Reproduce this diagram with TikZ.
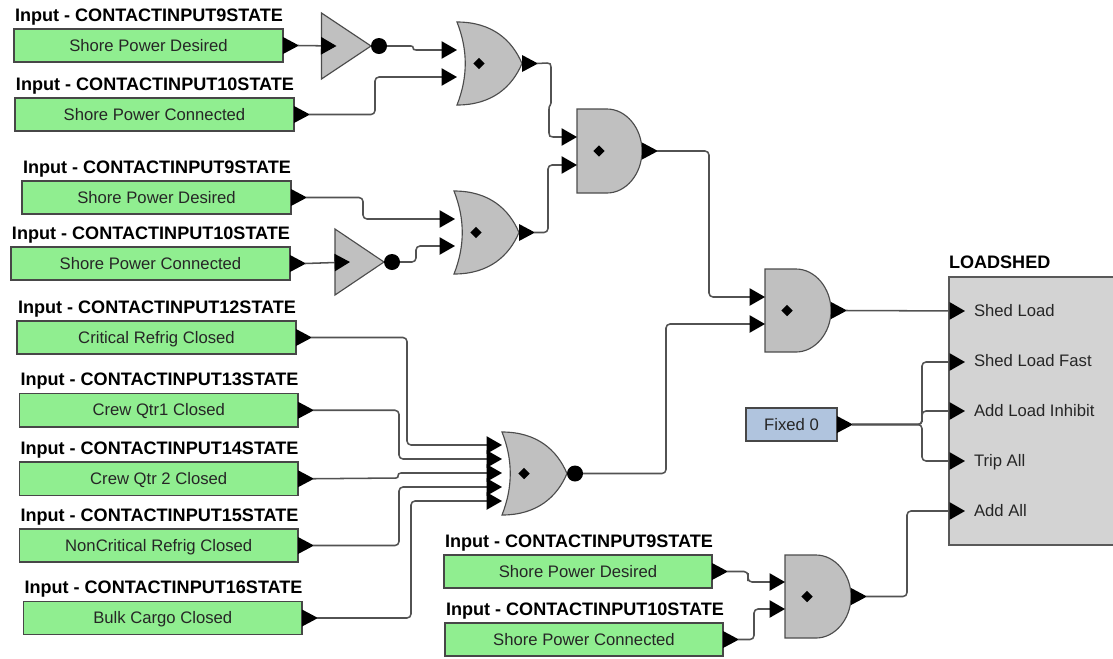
\documentclass[tikz,border=0pt]{standalone}
\usepackage{fontspec}
\setmainfont{Liberation Sans}
\usetikzlibrary{arrows.meta,calc,shapes.geometric}
\newcommand{\pxu}{0.75pt}
\tikzset{
  every node/.style={inner sep=0pt,outer sep=0pt},
  titletext/.style={anchor=base west,font=\bfseries\fontsize{13.55pt}{15pt}\selectfont,text=black},
  plain/.style={font=\fontsize{12.5pt}{15pt}\selectfont,text=black!85},
  boxbase/.style={draw=black!72,line width=0.95pt,plain,align=center,text height=10.4pt,text depth=2pt},
  inbox/.style={boxbase,fill={rgb,255:red,144;green,238;blue,144}},
  fixedbox/.style={boxbase,fill={rgb,255:red,176;green,196;blue,222}},
  blockbox/.style={draw=black!65,line width=0.95pt,fill={rgb,255:red,211;green,211;blue,211}},
  gatebody/.style={draw=black!70,line width=0.85pt,fill={rgb,255:red,192;green,192;blue,192}},
  wire/.style={draw=black!68,line width=1.15pt,rounded corners=3pt},
  wirein/.style={wire,-{Triangle[length=11.6pt,width=13pt,color=black,fill=black,sep=0pt]}},
  jogwire/.style={wirein,sharp corners},
  bubblenode/.style={circle,fill=black,minimum size=12pt},
  dia/.style={diamond,fill=black,minimum size=8.6pt},
  portlabel/.style={plain,anchor=west,text height=11pt,text depth=2pt},
}
% name, x1, y1, x2, y2, title, text
\newcommand{\inputbox}[7]{%
  \node[inbox,anchor=north west,minimum width={(#4-#2)*\pxu},minimum height={(#5-#3)*\pxu}] (#1) at (#2,#3) {#7};
  \node[titletext] (#1t) at (#2+1,#3-8) {#6};
  \pintri{#1o}{#1.east}%
}
\newcommand{\pintri}[2]{%
  \fill[black] (#2) ++(0,-8.5) -- ++(16,8.5) -- ++(-16,8.5) -- cycle;
  \coordinate (#1) at ([xshift=15*\pxu]#2);
}
% name, x0, ytop, ybot, xtip
\newcommand{\orgate}[5]{%
  \path[gatebody] (#2,#3) .. controls (#2+35,#3) and (#5-10,#3+18) .. (#5,{(#3+#4)/2})
    .. controls (#5-10,#4-18) and (#2+35,#4) .. (#2,#4)
    .. controls (#2+11,#4-28) and (#2+11,#3+28) .. (#2,#3) -- cycle;
  \node[dia] (#1d) at (#2+22,{(#3+#4)/2}) {};
  \coordinate (#1m) at (#5,{(#3+#4)/2});
}
\newcommand{\andgate}[5]{%
  \path[gatebody] (#2,#3) -- (#5-35,#3) .. controls (#5-16,#3) and (#5,#3+19) .. (#5,{(#3+#4)/2})
    .. controls (#5,#4-19) and (#5-16,#4) .. (#5-35,#4) -- (#2,#4) -- cycle;
  \node[dia] (#1d) at (#2+22,{(#3+#4)/2}) {};
  \coordinate (#1m) at (#5,{(#3+#4)/2});
}
\newcommand{\invgate}[5]{%
  \path[gatebody] (#2,#3) -- (#5,{(#3+#4)/2}) -- (#2,#4) -- cycle;
  \coordinate (#1a) at (#2+15,{(#3+#4)/2});
  \node[bubblenode] (#1b) at (#5+8,{(#3+#4)/2}) {};
}
\begin{document}
\begin{tikzpicture}[x=\pxu,y=-\pxu]
\useasboundingbox (0,0) rectangle (1113,658);
% inputs
\inputbox{bA}{14}{29}{283}{62}{Input - CONTACTINPUT9STATE}{Shore Power Desired}
\inputbox{bB}{15}{98}{294}{131}{Input - CONTACTINPUT10STATE}{Shore Power Connected}
\inputbox{bC}{22}{181}{291}{214}{Input - CONTACTINPUT9STATE}{Shore Power Desired}
\inputbox{bD}{11}{247}{290}{280}{Input - CONTACTINPUT10STATE}{Shore Power Connected}
\inputbox{bE}{17}{321}{296}{354}{Input - CONTACTINPUT12STATE}{Critical Refrig Closed}
\inputbox{bF}{19.5}{393.5}{298}{427}{Input - CONTACTINPUT13STATE}{Crew Qtr1 Closed}
\inputbox{bG}{19.5}{462}{298}{495.5}{Input - CONTACTINPUT14STATE}{Crew Qtr 2 Closed}
\inputbox{bH}{19.5}{529}{298}{562}{Input - CONTACTINPUT15STATE}{NonCritical Refrig Closed}
\inputbox{bI}{23.5}{601.5}{302}{634.5}{Input - CONTACTINPUT16STATE}{Bulk Cargo Closed}
\inputbox{bJ}{444}{555}{712}{588}{Input - CONTACTINPUT9STATE}{Shore Power Desired}
\inputbox{bK}{445}{623}{723}{656}{Input - CONTACTINPUT10STATE}{Shore Power Connected}
% fixed
\node[fixedbox,anchor=north west,minimum width={91*\pxu},minimum height={33*\pxu}] (fx) at (746,408) {Fixed 0};
\pintri{fxo}{fx.east}
% block
\node[blockbox,anchor=north west,minimum width={166*\pxu},minimum height={268*\pxu}] (ls) at (949,277) {};
\node[titletext] (lst) at (949,268) {LOADSHED};
\node[portlabel] (l1) at (974,310) {Shed Load};
\node[portlabel] (l2) at (974,360.5) {Shed Load Fast};
\node[portlabel] (l3) at (974,410) {Add Load Inhibit};
\node[portlabel] (l4) at (974,460.5) {Trip All};
\node[portlabel] (l5) at (974,510) {Add All};
\coordinate (lsa) at (965,311);
\coordinate (lsb) at (965,362);
\coordinate (lsc) at (965,411);
\coordinate (lsd) at (965,461);
\coordinate (lse) at (965,511);
% gates
\invgate{iA}{321.5}{13}{79}{371}
\invgate{iB}{335}{229}{295}{384}
\orgate{oA}{457}{22}{105}{522}
\pintri{oAo}{oAm}
\coordinate (oAa) at (457,50); \coordinate (oAb) at (457,77);
\orgate{oB}{454}{191}{274}{519}
\pintri{oBo}{oBm}
\coordinate (oBa) at (455,219); \coordinate (oBb) at (455,246);
\andgate{aA}{577}{109}{193}{642}
\pintri{aAo}{aAm}
\coordinate (aAa) at (577,137); \coordinate (aAb) at (577,165);
\andgate{aB}{765}{269}{352}{831}
\pintri{aBo}{aBm}
\coordinate (aBa) at (765,297); \coordinate (aBb) at (765,324);
\andgate{aC}{785}{555}{638}{851}
\pintri{aCo}{aCm}
\coordinate (aCa) at (785,582); \coordinate (aCb) at (785,609);
\orgate{nA}{502}{432}{515}{567}
\node[bubblenode] (nAb) at (575,473.5) {};
\coordinate (nAi) at (502,445); \coordinate (nAj) at (502,459); \coordinate (nAk) at (502,473);
\coordinate (nAl) at (502,487); \coordinate (nAn) at (502,501);
% wires
\draw[wirein] (bAo) -- (iAa);
\draw[wirein] (bDo) -- (iBa);
\draw[jogwire] (iAb.east) -- (411,46) .. controls (415,46) and (411,50) .. (416,50) -- (oAa);
\draw[wirein] (bBo) -| (375,96) |- (oAb);
\draw[wirein] (bCo) -| (363,208) |- (oBa);
\draw[wirein] (iBb.east) -| (416,254) |- (oBb);
\draw[jogwire] (oAo) -- (547,63) .. controls (550,63) and (551,64) .. (551,67) -- (551,103)
  .. controls (551,107) and (549,104) .. (549,109) -- (549,133)
  .. controls (549,136) and (550,137) .. (553,137) -- (aAa);
\draw[wirein] (oBo) -| (548,200) |- (aAb);
\draw[wirein] (aAo) -| (709,220) |- (aBa);
\draw[wirein] (nAb.east) -| (666,400) |- (aBb);
\draw[wirein] (aBo) -- (lsa);
\draw[wirein] (bEo) -| (407,390) |- (nAi);
\draw[wirein] (bFo) -| (399,435) |- (nAj);
\draw[jogwire] (bGo) -- (396,478) .. controls (400,478) and (396,473) .. (401,473) -- (nAk);
\draw[wirein] (bHo) -| (399,515) |- (nAl);
\draw[wirein] (bIo) -| (411,560) |- (nAn);
\draw[wirein] (bJo) -| (748,577) |- (aCa);
\draw[wirein] (bKo) -| (754,625) |- (aCb);
\draw[wirein] (aCo) -| (907,550) |- (lse);
\draw[wirein] (fxo) -| (922,390) |- (lsb);
\draw[wirein] (fxo) -| (922,418) |- (lsc);
\draw[wirein] (fxo) -| (922,445) |- (lsd);
\end{tikzpicture}
\end{document}
